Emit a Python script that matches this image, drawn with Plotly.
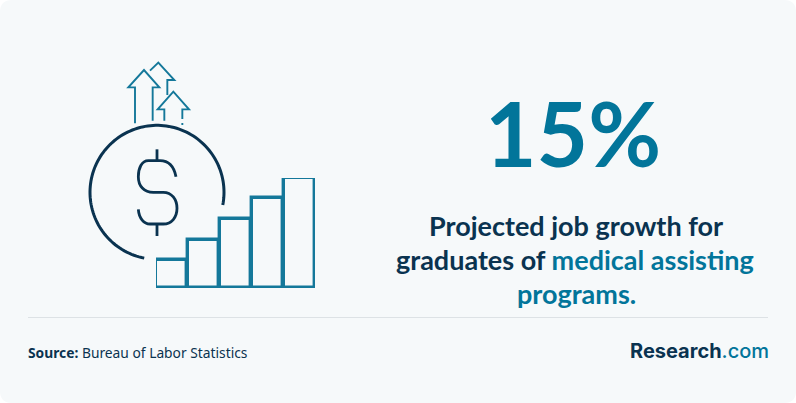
import numpy as np
import plotly.graph_objects as go

W, H = 796, 403
STAT = "15%"
LINE_1 = "Projected job growth for"
LINE_2_DARK = "graduates of "
LINE_2_TEAL = "medical assisting"
LINE_3 = "programs."
SOURCE_LABEL = "Source:"
SOURCE_TEXT = "Bureau of Labor Statistics"
LOGO_DARK = "Research"
LOGO_TEAL = ".com"
STEP_LABELS = ["a", "b", "c", "d", "e"]
STEP_VALUES = [28, 48, 69, 90, 110]

BG = "#f6f9fa"
DARK = "#0a3350"
TEAL = "#02759a"
ICON_TEAL = "#14789a"


def zx(x):
    return 70 + x / 3


def zy(y):
    return 50 + y / 3


def poly(points):
    return "M " + " L ".join(f"{zx(x):.2f},{zy(y):.2f}" for x, y in points)


def curve(start, *segs):
    s = f"M {zx(start[0]):.2f},{zy(start[1]):.2f}"
    for seg in segs:
        s += " C " + " ".join(f"{zx(x):.2f},{zy(y):.2f}" for x, y in seg)
    return s


def stroke(path, color, width):
    return dict(type="path", path=path, xref="x", yref="y",
                line=dict(color=color, width=width), layer="above")


shapes = []
r = 12
shapes.append(dict(
    type="path", xref="x", yref="y", layer="below", fillcolor=BG, line=dict(width=0),
    path=f"M {r},0 L {W-r},0 Q {W},0 {W},{r} L {W},{H-r} Q {W},{H} {W-r},{H} "
         f"L {r},{H} Q 0,{H} 0,{H-r} L 0,{r} Q 0,0 {r},0 Z"))
shapes.append(dict(type="line", xref="x", yref="y", x0=28, x1=768, y0=317.5, y1=317.5,
                   line=dict(color="#dde2e5", width=1)))

# coin arc
ang = np.radians(np.linspace(11, -259, 120))
arc = [(261 + 201 * np.cos(a), 427 + 201 * np.sin(a)) for a in ang]
shapes.append(stroke(poly(arc), DARK, 3))

# dollar sign
shapes.append(stroke(curve(
    (318, 380),
    [(312, 350), (298, 332), (270, 332)],
    [(250, 332), (240, 332), (235, 332)],
    [(215, 332), (205, 355), (205, 380)],
    [(205, 408), (222, 427), (250, 427)],
    [(262, 427), (272, 427), (280, 427)],
    [(305, 427), (321, 448), (321, 475)],
    [(321, 502), (305, 522), (280, 522)],
    [(265, 522), (255, 522), (240, 522)],
    [(222, 522), (207, 505), (205, 478)],
), DARK, 2.8))
shapes.append(stroke(poly([(261, 298), (261, 330)]), DARK, 2.8))
shapes.append(stroke(poly([(261, 524), (261, 558)]), DARK, 2.8))

# arrows
shapes.append(stroke(poly([(195, 220), (195, 112), (175, 112), (222, 60), (268, 112),
                           (248, 112), (248, 212)]), ICON_TEAL, 1.9))
shapes.append(stroke(poly([(240, 62), (265, 38), (313, 90), (292, 90), (292, 135)]),
                     ICON_TEAL, 1.9))
shapes.append(stroke(poly([(283, 212), (283, 178), (263, 178), (310, 125), (357, 178),
                           (337, 178), (337, 207)]), ICON_TEAL, 1.9))
shapes.append(stroke(poly([(337, 219), (337, 225)]), ICON_TEAL, 1.9))

fig = go.Figure()
fig.add_trace(go.Bar(
    x=STEP_LABELS, y=STEP_VALUES, xaxis="x2", yaxis="y2", width=0.97,
    marker=dict(color="rgba(0,0,0,0)", line=dict(color=ICON_TEAL, width=3.4)),
    cliponaxis=False, hoverinfo="skip", showlegend=False))


def note(x, y, text, size, family, color, weight=400, anchor="center"):
    return dict(x=x, y=y, xref="x", yref="y", text=text, showarrow=False, xanchor=anchor,
                yanchor="middle", align=anchor,
                font=dict(size=size, family=family, color=color, weight=weight))


annotations = [
    note(573, 132, STAT, 89, "Lato", TEAL, 700),
    note(576, 225, LINE_1, 27, "Lato", DARK, 700),
    note(575, 259, f"{LINE_2_DARK}<span style='color:{TEAL}'>{LINE_2_TEAL}</span>", 27, "Lato", DARK, 700),
    note(576, 293, f"<span style='color:{TEAL}'>{LINE_3}</span>", 27, "Lato", DARK, 700),
    note(26, 352.5, f"<b>{SOURCE_LABEL}</b> {SOURCE_TEXT}", 13.8, "Noto Sans", DARK, 400, "left"),
    note(771, 351, f"<b>{LOGO_DARK}</b><span style='color:{TEAL}'>{LOGO_TEAL}</span>", 20, "Inter", DARK, 500, "right"),
]

fig.update_layout(
    width=W, height=H, autosize=False, margin=dict(l=0, r=0, t=0, b=0, pad=0),
    paper_bgcolor="white", plot_bgcolor="rgba(0,0,0,0)", showlegend=False,
    bargap=0, shapes=shapes, annotations=annotations,
    xaxis=dict(range=[0, W], visible=False, domain=[0, 1], fixedrange=True),
    yaxis=dict(range=[H, 0], visible=False, domain=[0, 1], fixedrange=True),
    xaxis2=dict(domain=[156 / W, 315 / W], visible=False, anchor="y2", fixedrange=True,
                type="category", categoryorder="array", categoryarray=STEP_LABELS),
    yaxis2=dict(domain=[1 - 288 / H, 1 - 178 / H], range=[0, 110], visible=False,
                anchor="x2", fixedrange=True),
)
fig.write_html("out.html", config={"displayModeBar": False},
               post_script="document.body.style.margin='0';document.body.style.overflow='hidden';")
